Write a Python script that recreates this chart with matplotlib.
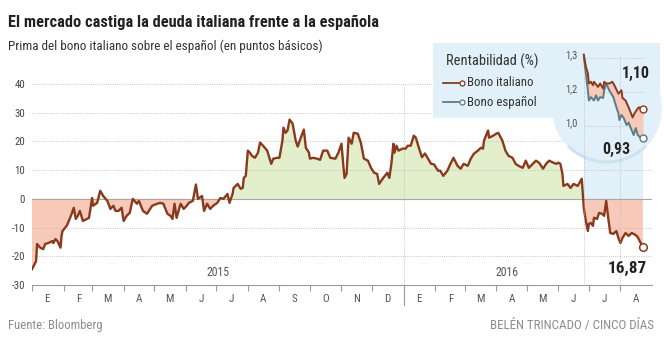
import numpy as np
import pandas as pd
import matplotlib
matplotlib.use('Agg')
import matplotlib.pyplot as plt
from matplotlib import font_manager as fm
from matplotlib.patches import Rectangle, Circle, Arc
from matplotlib.lines import Line2D
import matplotlib.transforms as mtrans

# ---------------- fonts ----------------
_names = {f.name for f in fm.fontManager.ttflist}
COND = 'Roboto Condensed' if 'Roboto Condensed' in _names else 'Liberation Sans'
plt.rcParams['font.family'] = [COND, 'DejaVu Sans']

# ---------------- data ----------------
spread_dates = [
    '2015-01-01', '2015-01-04', '2015-01-05', '2015-01-06', '2015-01-09', '2015-01-12', '2015-01-14',
    '2015-01-17', '2015-01-21', '2015-01-22', '2015-01-24', '2015-01-26', '2015-01-29', '2015-01-30',
    '2015-01-31', '2015-02-04', '2015-02-05', '2015-02-09', '2015-02-11', '2015-02-13', '2015-02-15',
    '2015-02-17', '2015-02-20', '2015-02-24', '2015-02-26', '2015-03-01', '2015-03-02', '2015-03-06',
    '2015-03-09', '2015-03-12', '2015-03-16', '2015-03-19', '2015-03-22', '2015-03-24', '2015-03-27',
    '2015-03-30', '2015-04-01', '2015-04-04', '2015-04-07', '2015-04-10', '2015-04-14', '2015-04-16',
    '2015-04-20', '2015-04-24', '2015-04-29', '2015-05-04', '2015-05-07', '2015-05-10', '2015-05-14',
    '2015-05-17', '2015-05-19', '2015-05-21', '2015-05-23', '2015-05-27', '2015-05-30', '2015-06-02',
    '2015-06-04', '2015-06-08', '2015-06-11', '2015-06-13', '2015-06-17', '2015-06-19', '2015-06-22',
    '2015-06-25', '2015-06-28', '2015-07-02', '2015-07-05', '2015-07-08', '2015-07-12', '2015-07-14',
    '2015-07-17', '2015-07-18', '2015-07-22', '2015-07-25', '2015-07-27', '2015-07-28', '2015-07-30',
    '2015-08-01', '2015-08-03', '2015-08-05', '2015-08-08', '2015-08-11', '2015-08-13', '2015-08-16',
    '2015-08-20', '2015-08-24', '2015-08-26', '2015-08-30', '2015-09-01', '2015-09-04', '2015-09-05',
    '2015-09-07', '2015-09-09', '2015-09-11', '2015-09-14', '2015-09-17', '2015-09-19', '2015-09-22',
    '2015-09-25', '2015-09-27', '2015-09-30', '2015-10-01', '2015-10-04', '2015-10-08', '2015-10-11',
    '2015-10-14', '2015-10-18', '2015-10-21', '2015-10-26', '2015-10-29', '2015-11-01', '2015-11-03',
    '2015-11-04', '2015-11-06', '2015-11-08', '2015-11-11', '2015-11-13', '2015-11-17', '2015-11-20',
    '2015-11-23', '2015-11-27', '2015-11-30', '2015-12-03', '2015-12-06', '2015-12-08', '2015-12-12',
    '2015-12-16', '2015-12-18', '2015-12-20', '2015-12-22', '2015-12-23', '2015-12-25', '2015-12-27',
    '2015-12-31', '2016-01-03', '2016-01-05', '2016-01-08', '2016-01-11', '2016-01-13', '2016-01-16',
    '2016-01-19', '2016-01-22', '2016-01-25', '2016-01-28', '2016-01-31', '2016-02-02', '2016-02-04',
    '2016-02-06', '2016-02-09', '2016-02-13', '2016-02-16', '2016-02-19', '2016-02-23', '2016-02-26',
    '2016-02-29', '2016-03-04', '2016-03-07', '2016-03-10', '2016-03-14', '2016-03-17', '2016-03-19',
    '2016-03-20', '2016-03-24', '2016-03-25', '2016-03-29', '2016-04-01', '2016-04-03', '2016-04-07',
    '2016-04-10', '2016-04-13', '2016-04-17', '2016-04-20', '2016-04-23', '2016-04-27', '2016-04-30',
    '2016-05-03', '2016-05-07', '2016-05-10', '2016-05-13', '2016-05-17', '2016-05-20', '2016-05-23',
    '2016-05-27', '2016-05-30', '2016-06-01', '2016-06-03', '2016-06-05', '2016-06-06', '2016-06-10',
    '2016-06-13', '2016-06-16', '2016-06-20', '2016-06-23', '2016-06-24', '2016-06-26', '2016-06-28',
    '2016-06-30', '2016-07-01', '2016-07-03', '2016-07-05', '2016-07-06', '2016-07-09', '2016-07-11',
    '2016-07-14', '2016-07-16', '2016-07-18', '2016-07-20', '2016-07-22', '2016-07-25', '2016-07-28',
    '2016-07-30', '2016-08-01', '2016-08-03', '2016-08-06', '2016-08-09', '2016-08-12', '2016-08-14',
    '2016-08-17', '2016-08-19', '2016-08-23',
]
spread_vals = [
    -24.5, -22.4, -21.7, -15.7, -17.0, -17.5, -15.7,
    -15.4, -14.7, -15.4, -14.0, -14.7, -17.0, -12.9,
    -11.2, -9.4, -8.7, -5.2, -3.1, -7.0, -5.9,
    -4.2, -7.7, -7.0, -6.6, 0.3, -2.4, -1.4,
    2.8, 1.0, -0.7, -3.5, -2.4, -4.2, -4.2,
    -3.1, -7.7, -5.9, -4.9, 0.0, -1.7, -0.7,
    -4.2, -5.2, -2.4, -1.7, -1.4, -1.7, -5.2,
    -5.9, -7.0, -1.7, -6.6, -1.7, -3.5, -2.4,
    -1.4, -0.7, 5.0, 0.0, 1.0, -4.2, -1.7,
    -3.5, -2.4, -1.4, 0.3, 0.0, 1.7, -1.4,
    1.7, 3.8, 5.2, 3.5, 3.8, 7.3, 8.0,
    16.8, 16.1, 15.0, 14.3, 16.1, 19.6, 18.5,
    16.8, 12.2, 14.0, 14.3, 14.3, 20.3, 24.8,
    23.0, 23.8, 27.6, 26.2, 20.3, 18.2, 21.3,
    24.1, 17.8, 16.1, 14.0, 14.3, 14.0, 13.6,
    16.8, 16.8, 14.3, 14.0, 16.1, 19.2, 10.8,
    7.3, 8.7, 21.3, 19.2, 23.0, 22.7, 19.6,
    14.0, 13.3, 10.8, 9.1, 8.7, 5.2, 7.3,
    9.1, 7.3, 12.2, 19.2, 16.1, 18.5, 16.8,
    17.5, 17.5, 18.5, 18.5, 22.0, 21.3, 17.8,
    14.5, 15.8, 14.0, 12.2, 12.0, 10.8, 9.8,
    9.8, 8.0, 9.8, 12.2, 14.3, 11.5, 10.5,
    12.2, 11.5, 14.0, 15.7, 16.8, 17.8, 17.5,
    20.3, 23.8, 21.3, 22.0, 22.7, 23.0, 20.3,
    16.8, 15.0, 14.3, 12.2, 11.5, 10.8, 13.3,
    10.8, 12.2, 13.3, 12.6, 10.5, 12.2, 13.3,
    12.6, 12.2, 12.6, 12.2, 8.7, 4.5, 5.2,
    3.8, 5.2, 4.5, 6.3, 7.0, -3.1, -7.7,
    -11.2, -8.7, -8.4, -9.4, -6.6, -7.0, -4.9,
    -5.2, -5.9, -0.7, -6.6, -11.9, -12.2, -11.2,
    -13.6, -15.4, -13.6, -11.9, -12.9, -11.9, -12.2,
    -12.9, -14.0, -16.87,
]

ita_dates = ['2016-06-26', '2016-06-28', '2016-06-30', '2016-07-01', '2016-07-03', '2016-07-05',
             '2016-07-06', '2016-07-10', '2016-07-12', '2016-07-15', '2016-07-16', '2016-07-18',
             '2016-07-21', '2016-07-24', '2016-07-26', '2016-07-30', '2016-08-02', '2016-08-03',
             '2016-08-06', '2016-08-09', '2016-08-13', '2016-08-14', '2016-08-17', '2016-08-19',
             '2016-08-21', '2016-08-23']
ita_vals = [1.42, 1.35, 1.31, 1.25, 1.26, 1.24,
            1.26, 1.23, 1.25, 1.22, 1.26, 1.25,
            1.25, 1.26, 1.24, 1.19, 1.21, 1.165,
            1.15, 1.11, 1.05, 1.065, 1.095, 1.11,
            1.105, 1.10]

spa_dates = ['2016-06-26', '2016-06-28', '2016-06-30', '2016-07-01', '2016-07-03', '2016-07-06',
             '2016-07-08', '2016-07-10', '2016-07-12', '2016-07-15', '2016-07-16', '2016-07-18',
             '2016-07-21', '2016-07-25', '2016-07-28', '2016-07-30', '2016-07-31', '2016-08-02',
             '2016-08-04', '2016-08-07', '2016-08-09', '2016-08-12', '2016-08-14', '2016-08-16',
             '2016-08-18', '2016-08-20', '2016-08-23']
spa_vals = [1.41, 1.31, 1.21, 1.15, 1.17, 1.15,
            1.18, 1.15, 1.17, 1.165, 1.21, 1.25,
            1.21, 1.17, 1.11, 1.075, 1.035, 1.065,
            1.05, 1.006, 1.02, 0.976, 0.947, 0.988,
            0.947, 0.935, 0.93]

month_labels = ['E', 'F', 'M', 'A', 'M', 'J', 'J', 'A', 'S', 'O', 'N', 'D',
                'E', 'F', 'M', 'A', 'M', 'J', 'J', 'A']
year_labels = ['2015', '2016']
y_ticks = [-30, -20, -10, 0, 10, 20, 30, 40]
inset_ticks = [1.0, 1.2, 1.4]
inset_tick_labels = ['1,0', '1,2', '1,3']
end_label = '16,87'
ita_label = '1,10'
spa_label = '0,93'

title = 'El mercado castiga la deuda italiana frente a la española'
subtitle = 'Prima del bono italiano sobre el español (en puntos básicos)'
source = 'Fuente: Bloomberg'
credit = 'BELÉN TRINCADO / CINCO DÍAS'

# ---------------- style ----------------
LINE = '#8a3a1c'
SPA = '#5c7b86'
RED_FILL = '#f6c9b9'
GREEN_FILL = '#e3eecd'
BLUE = '#e2f0f9'
RIM = '#cde3f1'
GRID = '#b8b8b8'
TXT = '#333333'
GRAYTXT = '#8c8c8c'

W, H = 664, 338
fig = plt.figure(figsize=(W / 100, H / 100), dpi=100)
fig.patch.set_facecolor('white')

sd = pd.to_datetime(spread_dates)
sv = np.array(spread_vals)
idt = pd.to_datetime(ita_dates)
iv = np.array(ita_vals)
sdt = pd.to_datetime(spa_dates)
spv = np.array(spa_vals)

x_start = pd.Timestamp('2015-01-01')
x_end = pd.Timestamp('2016-09-01')


def px(x, y, w, h):
    return [x / W, 1 - (y + h) / H, w / W, h / H]


# ---------------- main axes ----------------
ax = fig.add_axes(px(32, 84, 620, 201), zorder=1)
ax.set_xlim(x_start, x_end)
ax.set_ylim(-30, 40)
ax.patch.set_alpha(0)
for s in ['top', 'right', 'left']:
    ax.spines[s].set_visible(False)
ax.spines['bottom'].set_color('#9a9a9a')
ax.spines['bottom'].set_linewidth(0.8)

# blue column after the referendum
col_x = [sd[sd >= pd.Timestamp('2016-06-26')][0], sd[-1]]
ax.fill_between(col_x, 0, 40, color=BLUE, lw=0, zorder=0.5)

# fills
ax.fill_between(sd, sv, 0, where=sv >= 0, interpolate=True, color=GREEN_FILL, lw=0, zorder=1)
ax.fill_between(sd, sv, 0, where=sv <= 0, interpolate=True, color=RED_FILL, lw=0, zorder=1)

# grid
for yv in y_ticks[1:]:
    if yv == 0:
        ax.axhline(0, color='#a8a8a8', lw=0.8, zorder=1.6)
    else:
        ax.axhline(yv, color=GRID, lw=0.6, ls=(0, (1, 1.6)), zorder=1.5)

# year divider
jan16 = pd.Timestamp('2016-01-01')
ax.axvline(jan16, color=GRID, lw=0.6, ls=(0, (1, 1.6)), zorder=1.5)
ax.plot([jan16, jan16], [-30, -37], color='#9a9a9a', lw=0.8, clip_on=False, zorder=2)

# main line
ax.plot(sd, sv, color=LINE, lw=1.7, zorder=3, solid_joinstyle='round')
ax.plot([sd[-1]], [sv[-1]], 'o', ms=5.5, mfc='white', mec=LINE, mew=1.1, zorder=4, clip_on=False)

# y ticks
ax.set_yticks(y_ticks)
ax.set_yticklabels([str(v) for v in y_ticks])
ax.tick_params(axis='y', length=0, pad=5, labelsize=7.8, labelcolor='#444444')

# x ticks: month boundaries + labels at mid month
month_starts = pd.date_range('2015-01-01', '2016-08-01', freq='MS')
ticks_major = [m for m in month_starts if m != jan16]
ax.set_xticks(ticks_major)
ax.set_xticklabels([''] * len(ticks_major))
ax.tick_params(axis='x', which='major', length=4.5, width=0.8, color='#9a9a9a', direction='out')
mids = [m + pd.Timedelta(days=15) for m in month_starts]
ax.set_xticks(mids, minor=True)
ax.set_xticklabels(month_labels, minor=True)
ax.tick_params(axis='x', which='minor', length=0, pad=6.5, labelsize=8, labelcolor='#555555')

# year labels
ax.text(pd.Timestamp('2015-07-03'), -25.5, year_labels[0], ha='center', va='center',
        fontsize=8.5, color='#555555', zorder=4)
ax.text(pd.Timestamp('2016-04-12'), -25.5, year_labels[1], ha='center', va='center',
        fontsize=8.5, color='#555555', zorder=4)

# ---------------- overlay (pixel coords) ----------------
ov = fig.add_axes([0, 0, 1, 1], zorder=2)
ov.set_xlim(0, W)
ov.set_ylim(H, 0)
ov.axis('off')

ov.add_patch(Circle((607, 108), 55, facecolor=BLUE, edgecolor='none', zorder=1))
ov.add_patch(Arc((607, 107), 110, 110, theta1=45, theta2=135, color=RIM, lw=2.2, zorder=1.2))
ov.add_patch(Rectangle((433, 43), 227, 75, facecolor=BLUE, edgecolor='none', zorder=1.1))

# legend
t_leg = ov.text(446, 61, 'Rentabilidad (%)', ha='left', va='center', fontsize=10.5, color=TXT, zorder=3)
ov.add_line(Line2D([443, 459], [83, 83], color=LINE, lw=1.3, zorder=3))
ov.plot([461.5], [83], 'o', ms=3.6, mfc='white', mec=LINE, mew=0.9, zorder=4)
t_it = ov.text(467, 83, 'Bono italiano', ha='left', va='center', fontsize=9, color=TXT, zorder=3)
ov.add_line(Line2D([443, 459], [102, 102], color=SPA, lw=1.3, zorder=3))
ov.plot([461.5], [102], 'o', ms=3.6, mfc='white', mec=SPA, mew=0.9, zorder=4)
t_es = ov.text(467, 102, 'Bono español', ha='left', va='center', fontsize=9, color=TXT, zorder=3)

# titles and footer
t_title = ov.text(8, 27, title, ha='left', va='baseline', fontsize=15, fontweight='bold', color='#222222')
t_sub = ov.text(8, 50, subtitle, ha='left', va='baseline', fontsize=10.5, color='#333333')
t_src = ov.text(8, 329, source, ha='left', va='baseline', fontsize=8, color=GRAYTXT)
t_cred = ov.text(654, 329, credit, ha='right', va='baseline', fontsize=8, color=GRAYTXT)

# value labels
t_end = ov.text(647, 268, end_label, ha='right', va='center', fontsize=13, fontweight='bold', color='#222222', zorder=5)
t_i = ov.text(636, 73, ita_label, ha='center', va='center', fontsize=11, fontweight='bold', color='#222222', zorder=5)
t_s = ov.text(616, 149, spa_label, ha='center', va='center', fontsize=11, fontweight='bold', color='#222222', zorder=5)

# ---------------- inset axes ----------------
ins_top, ins_bot = 50, 150
axi = fig.add_axes(px(32, ins_top, 620, ins_bot - ins_top), zorder=3)
axi.set_xlim(x_start, x_end)
v_top = 1.0 + (126 - ins_top) / 170.0
v_bot = 1.0 + (126 - ins_bot) / 170.0
axi.set_ylim(v_bot, v_top)
axi.axis('off')

for tv, tl in zip(inset_ticks, inset_tick_labels):
    axi.plot([idt[0], idt[-1] + pd.Timedelta(days=1)], [tv, tv], color=GRID, lw=0.6,
             ls=(0, (1, 1.6)), zorder=1)
    axi.annotate(tl, xy=(idt[0], tv), xytext=(-4.5, 2), textcoords='offset points',
                 ha='right', va='center', fontsize=7.5, color='#555555')

# vertical dotted lines from inset top down to main axis
blend = mtrans.blended_transform_factory(axi.transData, fig.transFigure)
y_bottom = ax.get_position().y0
y_topv = 1 - 55 / H
for vd in [idt[0], pd.Timestamp('2016-08-01')]:
    axi.plot([vd, vd], [y_bottom, y_topv], transform=blend, color=GRID, lw=0.6,
             ls=(0, (1, 1.6)), clip_on=False, zorder=1)

# fill between Italian and Spanish yields
common = idt.union(sdt)
iv_c = np.interp(common.asi8, idt.asi8, iv)
sv_c = np.interp(common.asi8, sdt.asi8, spv)
axi.fill_between(common, iv_c, sv_c, color=RED_FILL, lw=0, zorder=1.5)
axi.plot(sdt, spv, color=SPA, lw=1.4, zorder=2)
axi.plot(idt, iv, color=LINE, lw=1.4, zorder=2.5)
axi.plot([idt[-1]], [iv[-1]], 'o', ms=5, mfc='white', mec=LINE, mew=1.0, zorder=4, clip_on=False)
axi.plot([sdt[-1]], [spv[-1]], 'o', ms=5, mfc='white', mec=SPA, mew=1.0, zorder=4, clip_on=False)

# ---------------- fit text widths ----------------
renderer = fig.canvas.get_renderer()


def fit(t, width):
    w = t.get_window_extent(renderer).width
    if w > 0:
        t.set_fontsize(t.get_fontsize() * width / w)


fit(t_title, 370)
fit(t_sub, 317)
fit(t_leg, 93)
fit(t_it, 67)
fit(t_es, 70)
fit(t_src, 94)
fit(t_cred, 165)
fit(t_end, 39)
fit(t_i, 28)
fit(t_s, 28)

fig.savefig('out.png', dpi=100)
